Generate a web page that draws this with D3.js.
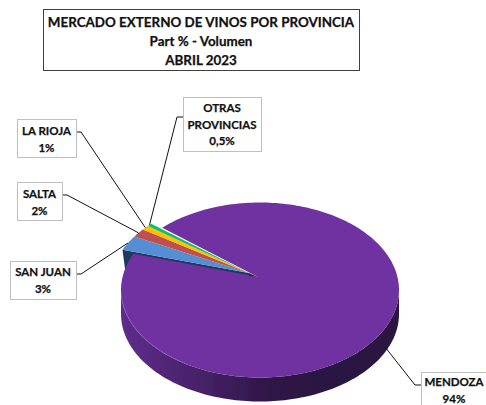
<!DOCTYPE html>
<html>
<head>
<meta charset="utf-8">
<script src="https://cdn.jsdelivr.net/npm/d3@7"></script>
<style>
  html, body { margin: 0; padding: 0; background: #fff; overflow: hidden; }
  text { font-family: Lato, "Open Sans", sans-serif; font-weight: 700; fill: #111; stroke: #111; stroke-width: 0.25; text-anchor: middle; }
</style>
</head>
<body>
<script>
const titleLines = ['MERCADO EXTERNO DE VINOS POR PROVINCIA', 'Part % - Volumen', 'ABRIL 2023']
const provinces = ['MENDOZA', 'SAN JUAN', 'SALTA', 'LA RIOJA', 'OTRAS PROVINCIAS']
const shares = [94.2, 2.8, 1.6, 0.85, 0.55]
const labelLines = [['MENDOZA', '94%'], ['SAN JUAN', '3%'], ['SALTA', '2%'], ['LA RIOJA', '1%'], ['OTRAS', 'PROVINCIAS', '0,5%']]
const colors = ['#7030a0', '#558ed5', '#c0504d', '#ffc000', '#0fbf6f']

// label boxes and elbows, in page pixels
const boxes = [
  { x: 421, y: 372, w: 66, h: 36, elbowY: 385, side: 'left', textY: 14 },
  { x: 10, y: 261, w: 66, h: 38, elbowY: 274, side: 'right', textY: 15 },
  { x: 17, y: 182, w: 45, h: 38, elbowY: 195, side: 'right', textY: 16 },
  { x: 17, y: 119, w: 59, h: 38, elbowY: 132, side: 'right', textY: 16 },
  { x: 183, y: 97, w: 78, h: 54, elbowY: 117, side: 'left', textY: 15 }
]

const w = 486
const h = 405
const cx = 260
const cy = 290
const rx = 139
const ry = 87.5
const depth = 24
const apex = [258, 277]
const smallApex = [249, 273]
const shift = { x: -11, y: -4 }

const svg = d3.select('body').append('svg')
  .attr('width', w)
  .attr('height', h)
  .style('display', 'block')

const defs = svg.append('defs')
const soft = defs.append('filter')
  .attr('id', 'soft')
  .attr('x', '-5%').attr('y', '-5%').attr('width', '110%').attr('height', '110%')
soft.append('feGaussianBlur').attr('stdDeviation', 0.45)

const sideShade = defs.append('linearGradient')
  .attr('id', 'sideShade')
  .attr('gradientUnits', 'userSpaceOnUse')
  .attr('x1', cx - rx).attr('x2', cx + rx).attr('y1', 0).attr('y2', 0)
sideShade.selectAll('stop')
  .data([[0, '#5f2d8c'], [0.3, '#452165'], [0.55, '#2d1545'], [1, '#2a1340']])
  .enter().append('stop')
  .attr('offset', d => d[0])
  .attr('stop-color', d => d[1])

const start = -44.7 * Math.PI / 180
const arcs = d3.pie().sort(null).startAngle(start).endAngle(start + 2 * Math.PI)(shares)

const line = d3.line().x(d => d[0]).y(d => d[1])

function edge (a, dx, dy) {
  return [cx + dx + rx * Math.sin(a), cy + dy - ry * Math.cos(a)]
}

function rim (a0, a1, dx, dy) {
  const n = Math.max(2, Math.ceil(Math.abs(a1 - a0) * 40))
  return d3.range(n + 1).map(i => edge(a0 + (a1 - a0) * i / n, dx, dy))
}

const pie = svg.append('g').attr('filter', 'url(#soft)')

// side of the big slice
const sideA0 = Math.PI / 2
const sideA1 = 3 * Math.PI / 2
pie.append('path')
  .attr('d', line(rim(sideA0, sideA1, 0, 0).concat(rim(sideA1, sideA0, 0, depth))) + 'Z')
  .attr('fill', 'url(#sideShade)')

// wall of the San Juan slice, mostly hidden by the big one
const sj = arcs[1]
const sjEdge = edge(sj.startAngle, shift.x, shift.y)
pie.append('path')
  .attr('d', line([smallApex, sjEdge, [sjEdge[0] + 3, sjEdge[1] + 22], [smallApex[0], smallApex[1] + 3]]) + 'Z')
  .attr('fill', '#1f3a5f')

// top of the big slice
pie.append('path')
  .attr('d', line([apex].concat(rim(arcs[0].startAngle, arcs[0].endAngle, 0, 0))) + 'Z')
  .attr('fill', colors[0])

// dark tip where the slices meet
pie.append('path')
  .attr('d', line([smallApex, apex, [smallApex[0], smallApex[1] + 3]]) + 'Z')
  .attr('fill', '#3a1a55')

// light bevel on the front left edge
pie.append('path')
  .attr('d', line(rim(3.7, 4.6, 0, -0.5)))
  .attr('fill', 'none')
  .attr('stroke', '#9260c0')
  .attr('stroke-opacity', 0.7)

// small slices pulled out of the pie
arcs.slice(1).forEach((d, i) => {
  pie.append('path')
    .attr('d', line([smallApex].concat(rim(d.startAngle, d.endAngle, shift.x, shift.y))) + 'Z')
    .attr('fill', colors[i + 1])
})

// leader lines, from the slice edge to the box
const leaders = svg.append('g').attr('fill', 'none').attr('stroke', '#111').attr('stroke-width', 1)
arcs.forEach((d, i) => {
  const b = boxes[i]
  const mid = (d.startAngle + d.endAngle) / 2
  const out = i === 0 ? edge(mid, 11, 7) : edge(mid, shift.x, shift.y)
  const bx = b.side === 'left' ? b.x : b.x + b.w
  const ex = b.side === 'left' ? bx - 6 : bx + 5
  leaders.append('path').attr('d', line([[bx, b.elbowY], [ex, b.elbowY], out]))
})

// title box
svg.append('rect')
  .attr('x', 43.5).attr('y', 9.5).attr('width', 316).attr('height', 61)
  .attr('fill', '#fff').attr('stroke', '#404040').attr('stroke-width', 1)

svg.append('g').selectAll('text')
  .data(titleLines)
  .enter().append('text')
  .attr('x', 201)
  .attr('y', (d, i) => 27 + i * 19)
  .attr('font-size', 13.4)
  .text(d => d)

// label boxes
const labels = svg.append('g').selectAll('g')
  .data(provinces)
  .enter().append('g')
  .attr('data-province', d => d)

labels.append('rect')
  .attr('x', (d, i) => boxes[i].x + 0.5)
  .attr('y', (d, i) => boxes[i].y + 0.5)
  .attr('width', (d, i) => boxes[i].w)
  .attr('height', (d, i) => boxes[i].h)
  .attr('fill', '#fff')
  .attr('stroke', '#bfbfbf')

labels.each(function (d, i) {
  const b = boxes[i]
  d3.select(this).selectAll('text')
    .data(labelLines[i])
    .enter().append('text')
    .attr('x', b.x + b.w / 2)
    .attr('y', (t, j) => b.y + b.textY + j * 16.7)
    .attr('font-size', 11.5)
    .text(t => t)
})
</script>
</body>
</html>
